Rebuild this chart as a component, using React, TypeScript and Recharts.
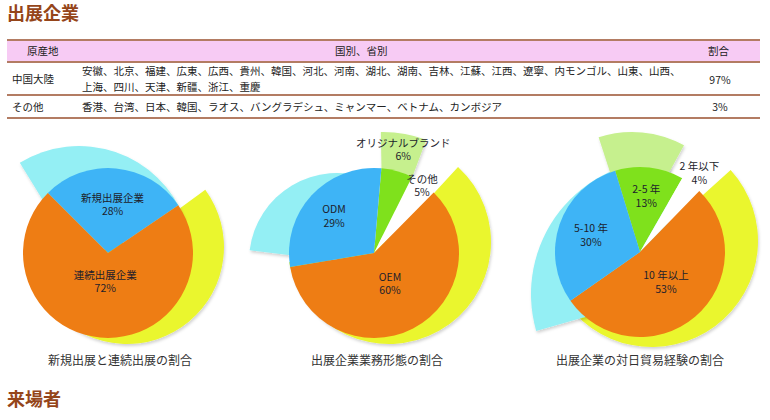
import React from 'react';
import { PieChart, Pie, Cell } from 'recharts';

// ---------- data ----------
const TITLE_TOP = '出展企業';
const TITLE_BOTTOM = '来場者';

const TABLE_HEADERS = ['原産地', '国別、省別', '割合'];
const ORIGINS = ['中国大陸', 'その他'];
const ORIGIN_MEMBERS = [
  [
    '安徽、北京、福建、広東、広西、貴州、韓国、河北、河南、湖北、湖南、吉林、江蘇、江西、遼寧、内モンゴル、山東、山西、',
    '上海、四川、天津、新疆、浙江、重慶',
  ],
  ['香港、台湾、日本、韓国、ラオス、バングラデシュ、ミャンマー、ベトナム、カンボジア'],
];
const ORIGIN_SHARES = ['97%', '3%'];

const PIE1_NAMES = ['新規出展企業', '連続出展企業'];
const PIE1_VALUES = [28, 72];

const PIE2_NAMES = ['オリジナルブランド', 'その他', 'OEM', 'ODM'];
const PIE2_VALUES = [6, 5, 60, 29];

const PIE3_NAMES = ['2-5 年', '2 年以下', '10 年以上', '5-10 年'];
const PIE3_VALUES = [13, 4, 53, 30];

const CAPTIONS = ['新規出展と連続出展の割合', '出展企業業務形態の割合', '出展企業の対日貿易経験の割合'];

// ---------- styles ----------
const FONT = '"Noto Sans CJK JP", "Noto Sans", sans-serif';
const BLUE = '#3eb4f6';
const ORANGE = '#ee7d14';
const GREEN = '#7fe11c';
const WHITE = '#ffffff';
const CYAN = '#94eff4';
const YELLOW = '#eaf62f';
const LIGHTGREEN = '#c6f08e';
const BROWN = '#95451a';
const LINE = '#b37c63';
const PINK = '#f7cbf4';

type Shadow = { index: number; color: string; cx: number; cy: number; r: number; start: number };
type PieCfg = {
  names: string[];
  values: number[];
  colors: string[];
  cx: number;
  cy: number;
  r: number;
  start: number;
  labelR: number[];
  shadows: Shadow[];
  captionX: number;
};

const PIES: PieCfg[] = [
  {
    names: PIE1_NAMES,
    values: PIE1_VALUES,
    colors: [BLUE, ORANGE],
    cx: 108,
    cy: 253,
    r: 85,
    start: 135,
    labelR: [0.57, 0.34],
    shadows: [
      { index: 1, color: YELLOW, cx: 127, cy: 247, r: 97, start: 137 },
      { index: 0, color: CYAN, cx: 79, cy: 259, r: 113, start: 121.6 },
    ],
    captionX: 120,
  },
  {
    names: PIE2_NAMES,
    values: PIE2_VALUES,
    colors: [GREEN, WHITE, ORANGE, BLUE],
    cx: 374,
    cy: 253,
    r: 85,
    start: 85,
    labelR: [1.26, 0.97, 0.41, 0.64],
    shadows: [
      { index: 2, color: YELLOW, cx: 389, cy: 242, r: 102, start: 87 },
      { index: 3, color: CYAN, cx: 337, cy: 261, r: 88, start: 68.6 },
      { index: 0, color: LIGHTGREEN, cx: 383, cy: 255, r: 123, start: 91 },
    ],
    captionX: 377,
  },
  {
    names: PIE3_NAMES,
    values: PIE3_VALUES,
    colors: [GREEN, WHITE, ORANGE, BLUE],
    cx: 640,
    cy: 252,
    r: 85,
    start: 107,
    labelR: [0.66, 1.16, 0.47, 0.61],
    shadows: [
      { index: 2, color: YELLOW, cx: 652, cy: 241, r: 106, start: 103.3 },
      { index: 3, color: CYAN, cx: 665, cy: 294, r: 134, start: 88 },
      { index: 0, color: LIGHTGREEN, cx: 632, cy: 240, r: 108, start: 108 },
    ],
    captionX: 640,
  },
];

const RAD = Math.PI / 180;

const makeLabel = (cfg: PieCfg) => (p: any) => {
  const i = p.index;
  const rr = p.outerRadius * cfg.labelR[i];
  const x = p.cx + rr * Math.cos(-p.midAngle * RAD);
  const y = p.cy + rr * Math.sin(-p.midAngle * RAD);
  return (
    <text x={x} y={y} textAnchor="middle" fontSize={10.5} fill="#1d1d2b" fontFamily={FONT}>
      <tspan x={x} y={y - 3}>
        {cfg.names[i]}
      </tspan>
      <tspan x={x} y={y + 10.5}>
        {cfg.values[i]}%
      </tspan>
    </text>
  );
};

const toData = (names: string[], values: number[]) => names.map((name, i) => ({ name, value: values[i] }));

export default function App() {
  const pies: React.ReactNode[] = [];
  PIES.forEach((cfg, k) => {
    const data = toData(cfg.names, cfg.values);
    cfg.shadows.forEach((s, j) => {
      pies.push(
        <Pie
          key={`s${k}-${j}`}
          data={data}
          dataKey="value"
          nameKey="name"
          cx={s.cx}
          cy={s.cy}
          outerRadius={s.r}
          innerRadius={0}
          startAngle={s.start}
          endAngle={s.start - 360}
          stroke="none"
          isAnimationActive={false}
          label={false}
          labelLine={false}
        >
          {data.map((_, i) => (
            <Cell
              key={i}
              fill={i === s.index ? s.color : 'none'}
              stroke="none"
              filter={i === s.index ? 'url(#softShadow)' : undefined}
            />
          ))}
        </Pie>
      );
    });
    pies.push(
      <Pie
        key={`m${k}`}
        data={data}
        dataKey="value"
        nameKey="name"
        cx={cfg.cx}
        cy={cfg.cy}
        outerRadius={cfg.r}
        innerRadius={0}
        startAngle={cfg.start}
        endAngle={cfg.start - 360}
        stroke="none"
        isAnimationActive={false}
        labelLine={false}
        label={makeLabel(cfg)}
      >
        {data.map((_, i) => (
          <Cell key={i} fill={cfg.colors[i]} stroke="none" />
        ))}
      </Pie>
    );
  });

  const txt = (style: React.CSSProperties, content: React.ReactNode, key?: string) => (
    <div key={key} style={{ position: 'absolute', whiteSpace: 'nowrap', fontFamily: FONT, ...style }}>
      {content}
    </div>
  );

  const line = (top: number, key: string) => (
    <div key={key} style={{ position: 'absolute', left: 7, width: 753, top, height: 2, background: LINE }} />
  );

  return (
    <div style={{ position: 'absolute', left: 0, top: 0, width: 770, height: 420, background: '#fff', overflow: 'hidden' }}>
      <svg width={0} height={0} style={{ position: 'absolute' }}>
        <defs>
          <filter id="softShadow" x="-20%" y="-20%" width="140%" height="140%">
            <feDropShadow dx="1" dy="2" stdDeviation="1.6" floodColor="#000" floodOpacity="0.18" />
          </filter>
        </defs>
      </svg>
      <div style={{ position: 'absolute', left: 0, top: 0 }}>
        <PieChart width={770} height={420} margin={{ top: 0, right: 0, bottom: 0, left: 0 }}>
          {pies}
        </PieChart>
      </div>

      {/* titles */}
      {txt({ left: 7, top: 1, fontSize: 18, lineHeight: '22px', fontWeight: 700, color: BROWN }, TITLE_TOP, 't1')}
      {txt({ left: 7, top: 387, fontSize: 18, lineHeight: '22px', fontWeight: 700, color: BROWN }, TITLE_BOTTOM, 't2')}

      {/* table */}
      <div style={{ position: 'absolute', left: 7, width: 753, top: 40, height: 21, background: PINK }} />
      {line(38.5, 'l1')}
      {line(60.5, 'l2')}
      {line(94, 'l3')}
      {line(116.5, 'l4')}
      {txt({ left: 27, top: 44, fontSize: 10.5, lineHeight: '14px', color: '#222' }, TABLE_HEADERS[0], 'h0')}
      {txt({ left: 335, top: 44, fontSize: 10.5, lineHeight: '14px', color: '#222' }, TABLE_HEADERS[1], 'h1')}
      {txt({ left: 708, top: 44, fontSize: 10.5, lineHeight: '14px', color: '#222' }, TABLE_HEADERS[2], 'h2')}

      {txt({ left: 12, top: 72, fontSize: 10.5, lineHeight: '14px', color: '#222' }, ORIGINS[0], 'o0')}
      {txt(
        { left: 82, top: 63.4, fontSize: 10.5, lineHeight: '15.4px', color: '#222' },
        ORIGIN_MEMBERS[0].map((m, j) => (
          <React.Fragment key={j}>
            {j > 0 && <br />}
            {m}
          </React.Fragment>
        )),
        'm0'
      )}
      {txt({ left: 700, width: 40, textAlign: 'center', top: 73, fontSize: 10.5, lineHeight: '14px', color: '#222' }, ORIGIN_SHARES[0], 's0')}

      {txt({ left: 12, top: 100, fontSize: 10.5, lineHeight: '14px', color: '#222' }, ORIGINS[1], 'o1')}
      {txt({ left: 82, top: 100, fontSize: 10.5, lineHeight: '14px', color: '#222' }, ORIGIN_MEMBERS[1][0], 'm10')}
      {txt({ left: 700, width: 40, textAlign: 'center', top: 100, fontSize: 10.5, lineHeight: '14px', color: '#222' }, ORIGIN_SHARES[1], 's1')}

      {/* captions */}
      {PIES.map((cfg, k) =>
        txt(
          { left: cfg.captionX - 100, width: 200, textAlign: 'center', top: 351, fontSize: 12, lineHeight: '18px', color: '#333' },
          CAPTIONS[k],
          `c${k}`
        )
      )}
    </div>
  );
}
